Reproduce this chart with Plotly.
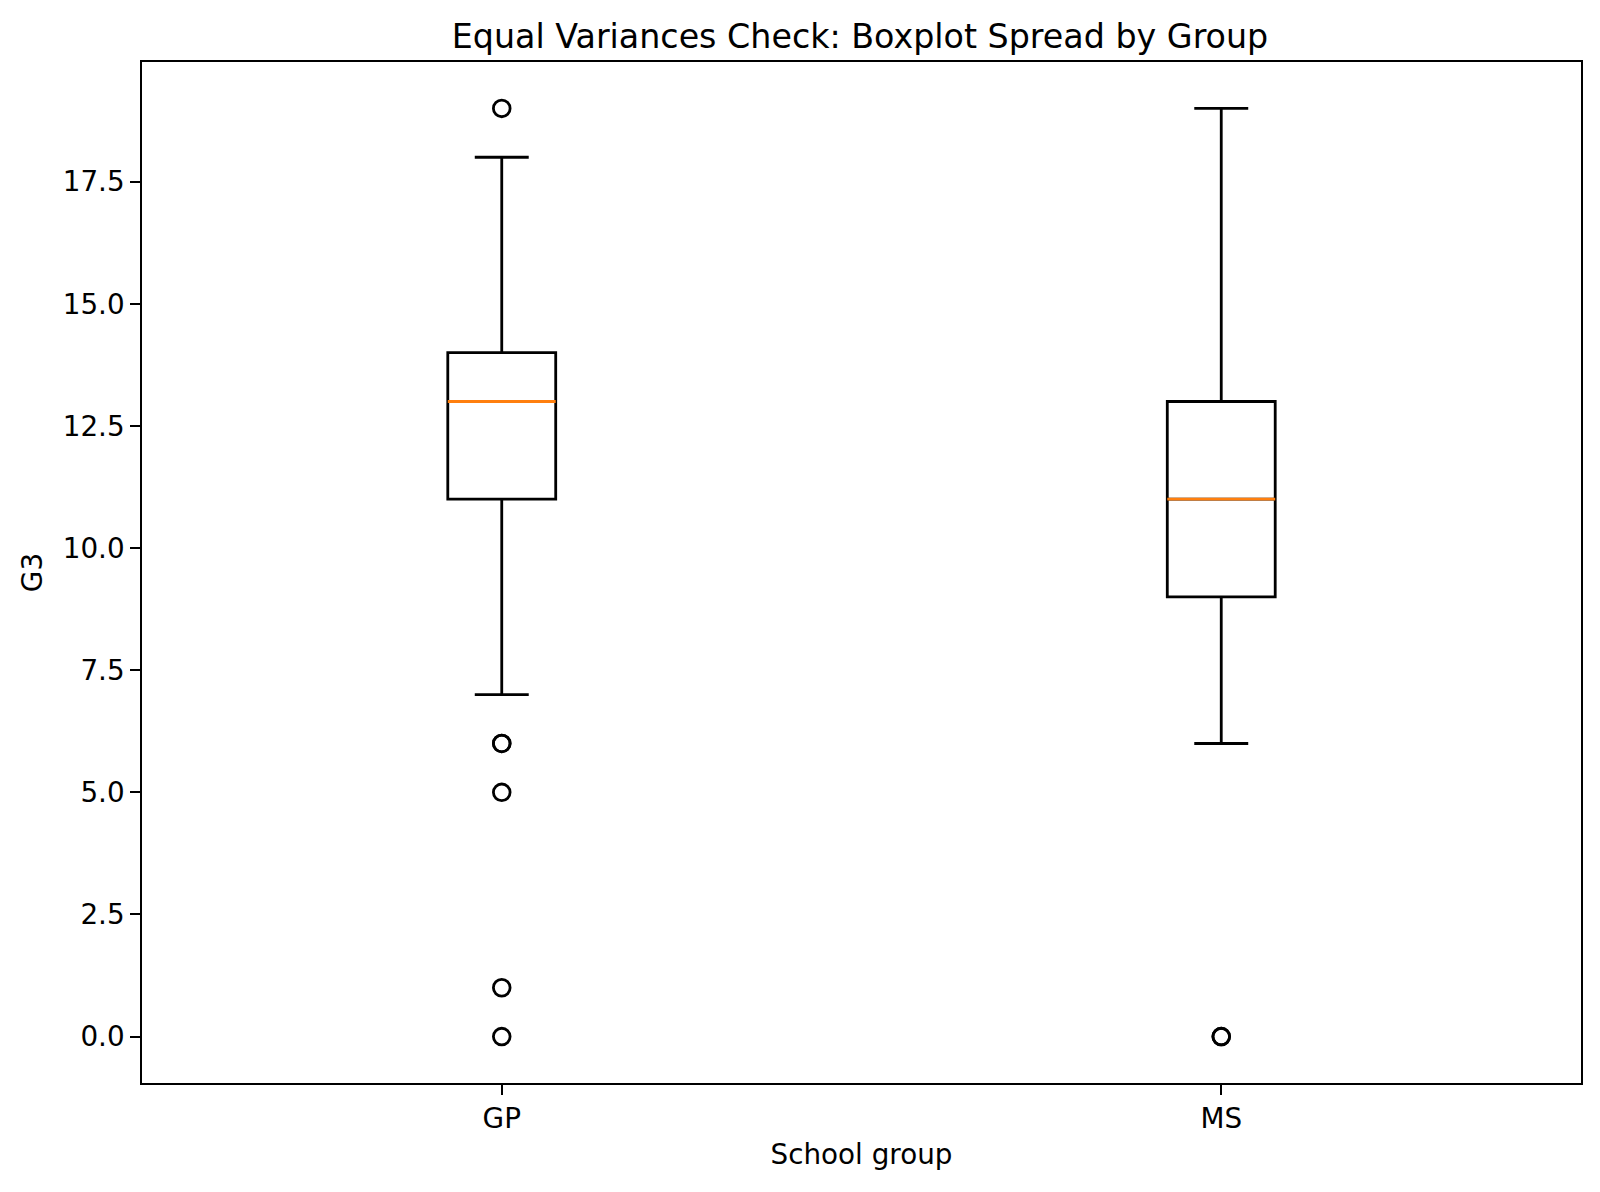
import plotly.graph_objects as go

groups = ["GP", "MS"]
positions = [1, 2]
q1 = [11, 9]
median = [13, 11]
q3 = [14, 13]
lower_whisker = [7, 6]
upper_whisker = [18, 19]
outliers_gp = [19, 6, 6, 5, 1, 0]
outliers_ms = [0, 0]
y_ticks = [0, 2.5, 5.0, 7.5, 10.0, 12.5, 15.0, 17.5]

BOX_W = 0.15
LW = 2.8
FONT = "DejaVu Sans"

fig = go.Figure()

for i, g in enumerate(groups):
    fig.add_trace(go.Box(
        x=[positions[i]], q1=[q1[i]], median=[median[i]], q3=[q3[i]],
        lowerfence=[lower_whisker[i]], upperfence=[upper_whisker[i]],
        width=BOX_W, whiskerwidth=0.5, boxpoints=False,
        line=dict(color="black", width=LW), fillcolor="rgba(0,0,0,0)",
        name=g, showlegend=False, hoverinfo="skip",
    ))
    fig.add_trace(go.Scatter(
        x=[positions[i] - BOX_W / 2, positions[i] + BOX_W / 2],
        y=[median[i], median[i]], mode="lines",
        line=dict(color="#ff7f0e", width=LW), showlegend=False, hoverinfo="skip",
    ))

for pos, outs in zip(positions, [outliers_gp, outliers_ms]):
    fig.add_trace(go.Scatter(
        x=[pos] * len(outs), y=outs, mode="markers",
        marker=dict(symbol="circle-open", size=16.7, color="black",
                    line=dict(color="black", width=2.8)),
        showlegend=False, hoverinfo="skip",
    ))

fig.update_layout(
    width=1600, height=1192,
    margin=dict(l=142, r=19, t=62, b=109),
    paper_bgcolor="white", plot_bgcolor="white",
    boxmode="overlay",
    font=dict(family=FONT, size=27.8, color="black"),
    title=dict(text="Equal Variances Check: Boxplot Spread by Group",
               font=dict(family=FONT, size=33.3, color="black"),
               x=0.5375, xanchor="center", xref="container",
               y=1 - 36 / 1192, yanchor="middle", yref="container"),
)

fig.update_xaxes(
    range=[0.5, 2.5], tickmode="array", tickvals=positions, ticktext=groups,
    showgrid=False, zeroline=False,
    showline=True, mirror=True, linecolor="black", linewidth=2.2,
    ticks="outside", ticklen=9.7, tickwidth=2.2, tickcolor="black",
    tickfont=dict(family=FONT, size=27.8, color="black"),
    title=dict(text="School group", font=dict(family=FONT, size=27.8, color="black"), standoff=10),
)
fig.update_yaxes(
    range=[-0.95, 19.95], tickmode="array", tickvals=y_ticks,
    ticktext=[f"{v:.1f}" for v in y_ticks],
    showgrid=False, zeroline=False,
    showline=True, mirror=True, linecolor="black", linewidth=2.2,
    ticks="outside", ticklen=9.7, tickwidth=2.2, tickcolor="black",
    tickfont=dict(family=FONT, size=27.8, color="black"),
    title=dict(text="G3", font=dict(family=FONT, size=27.8, color="black"), standoff=12),
)

fig.write_html("out.html")
